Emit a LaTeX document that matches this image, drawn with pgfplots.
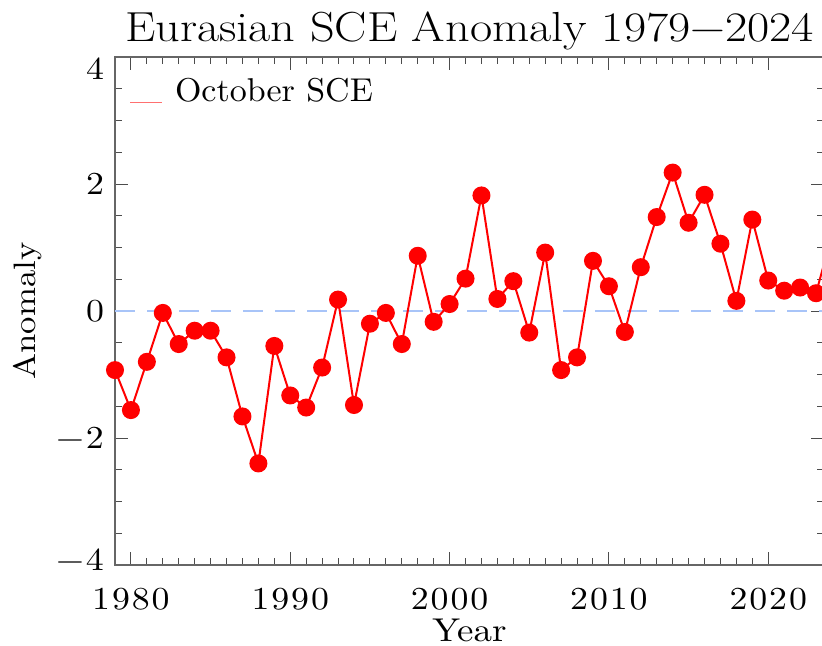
\documentclass[border=0pt]{standalone}
\usepackage{fontspec}
\newfontfamily\ftitle{lmroman17-regular.otf}[FakeStretch=1.15]
\newfontfamily\fticks{lmroman10-regular.otf}[FakeStretch=1.12, LetterSpace=6]
\newfontfamily\flegend{lmroman10-regular.otf}[FakeStretch=1.03]
\newfontfamily\flabel{lmroman10-regular.otf}[FakeStretch=1.12]
\usepackage{pgfplots}
\pgfplotsset{compat=1.18}
\definecolor{zeroblue}{HTML}{A8C4F8}
\definecolor{legred}{HTML}{FF7070}
\pgfplotstableread{
year anom
1979 -0.93
1980 -1.56
1981 -0.80
1982 -0.03
1983 -0.52
1984 -0.31
1985 -0.31
1986 -0.73
1987 -1.66
1988 -2.40
1989 -0.55
1990 -1.33
1991 -1.52
1992 -0.89
1993 0.18
1994 -1.48
1995 -0.20
1996 -0.03
1997 -0.52
1998 0.87
1999 -0.17
2000 0.11
2001 0.51
2002 1.82
2003 0.19
2004 0.47
2005 -0.34
2006 0.92
2007 -0.93
2008 -0.73
2009 0.79
2010 0.39
2011 -0.33
2012 0.69
2013 1.48
2014 2.18
2015 1.39
2016 1.83
2017 1.06
2018 0.16
2019 1.44
2020 0.48
2021 0.32
2022 0.37
2023 0.28
2024 1.20
}\sce
\begin{document}
\begin{tikzpicture}
\useasboundingbox (0,0) rectangle (411pt,322.5pt);
\begin{axis}[
  at={(57.5pt,40pt)}, anchor=south west, scale only axis,
  width=354.5pt, height=254pt,
  xmin=1979, xmax=2023.5, ymin=-4, ymax=4,
  xtick={1980,1990,2000,2010,2020}, minor x tick num=9,
  xticklabels={1980,1990,2000,2010,2020},
  ytick={-4,-2,0,2,4}, minor y tick num=3,
  yticklabels={\raisebox{2.5pt}[\height][\depth]{−4},−2,0,2,\raisebox{-6pt}[\height][\depth]{4}},
  tick align=inside, major tick length=6.5pt, minor tick length=3.5pt,
  tick style={black!70, line width=0.5pt},
  axis line style={black!60, line width=0.6pt},
  x tick label style={font=\fticks\fontsize{16}{18}\selectfont, yshift=-8pt},
  y tick label style={font=\fticks\fontsize{16}{18}\selectfont, xshift=-2pt},
  title={Eurasian SCE Anomaly 1979−2024},
  title style={font=\ftitle\fontsize{21}{24}\selectfont, yshift=-6pt},
  xlabel={Year}, ylabel={Anomaly},
  xlabel style={font=\flabel\fontsize{16.5}{19}\selectfont, yshift=2.5pt},
  ylabel style={font=\flabel\fontsize{15.5}{18}\selectfont},
  ylabel shift=0.5pt,
  legend style={draw=none, fill=none, at={(0.0,1)}, anchor=north west,
    xshift=4pt, yshift=-6.5pt,
    font=\flegend\fontsize{16.5}{18}\selectfont},
  legend cell align=left,
]
\addplot[zeroblue, line width=1.3pt, dash pattern=on 10pt off 6pt, forget plot]
  coordinates {(1979,0) (2023.5,0)};
\addplot[red, line width=1pt, mark=*, mark size=4pt, mark options={fill=red, draw=red},
  legend image code/.code={\draw[legred, line width=0.6pt] (0pt,-5.5pt) -- (16pt,-5.5pt); \path (20pt,0pt);}]
  table[x=year, y=anom] {\sce};
\addlegendentry{October SCE}
\end{axis}
\end{tikzpicture}
\end{document}
